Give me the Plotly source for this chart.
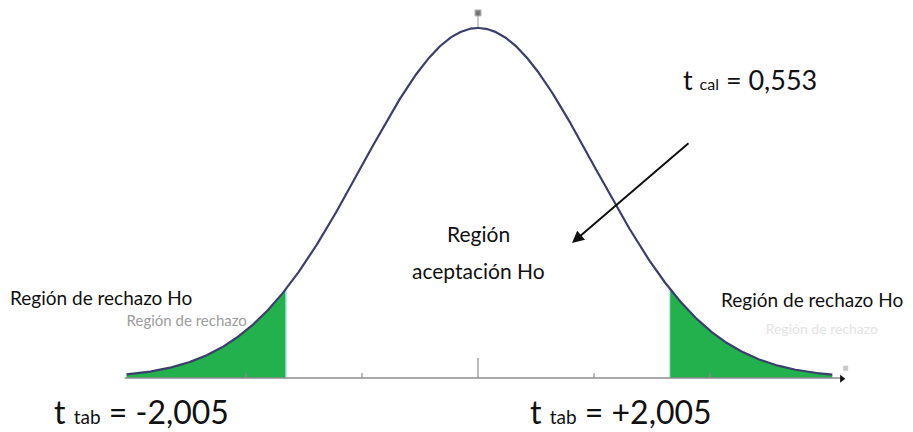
import numpy as np
import plotly.graph_objects as go

# Critical and calculated t values
t_tab = 2.005
t_cal = 0.553

# Bell curve drawn in t units; shape scale and visible span of the curve
curve_scale = 1.215
curve_span = [-3.68, 3.71]
tick_steps = [-2, -1, 0, 1, 2]

# Texts
label_reject = "Región de rechazo Ho"
label_accept = ["Región", "aceptación Ho"]
label_ghost = "Región de rechazo"

GREEN = "#22b14c"
CURVE = "#3b3f6b"
AXIS = "#8c8c8c"
FONT = "Lato, 'Open Sans', sans-serif"


def bell(t):
    return np.exp(-0.5 * (np.asarray(t) / curve_scale) ** 2)


def fmt(v):
    return f"{v:.3f}".replace(".", ",")


def t_label(sub, value, sub_px):
    return f"t <span style='font-size:{sub_px}px'>{sub}</span> = {value}"


t = np.linspace(curve_span[0], curve_span[1], 600)
y = bell(t)

fig = go.Figure()

# faint text sitting behind the tails
fig.add_trace(go.Scatter(
    x=[-3.05], y=[0.16], mode="text", text=[label_ghost],
    textfont=dict(family=FONT, size=15, color="#9d9d9d"),
    hoverinfo="skip", showlegend=False))
fig.add_trace(go.Scatter(
    x=[3.6], y=[0.137], mode="text", text=[label_ghost],
    textfont=dict(family=FONT, size=14, color="#e4e4e4"),
    hoverinfo="skip", showlegend=False))

# shaded rejection tails
for side in (-1, 1):
    if side < 0:
        tt = t[t <= -t_tab]
    else:
        tt = t[t >= t_tab]
    xs = np.concatenate([tt, tt[::-1]])
    ys = np.concatenate([bell(tt), np.zeros_like(tt)])
    fig.add_trace(go.Scatter(
        x=xs, y=ys, mode="lines", fill="toself", fillcolor=GREEN,
        line=dict(width=0), hoverinfo="skip", showlegend=False))
    # light edge at the critical value
    fig.add_trace(go.Scatter(
        x=[side * t_tab, side * t_tab], y=[0, float(bell(t_tab))],
        mode="lines", line=dict(color="#bfe9ee", width=1.5),
        hoverinfo="skip", showlegend=False))

# horizontal axis
fig.add_trace(go.Scatter(
    x=[curve_span[0] - 0.02, curve_span[1] + 0.1], y=[0, 0], mode="lines",
    line=dict(color=AXIS, width=1.5), hoverinfo="skip", showlegend=False))

# tick marks at multiples of the scale, the central one taller
tx, ty = [], []
for k in tick_steps:
    h = 0.057 if k == 0 else 0.014
    tx += [k * curve_scale, k * curve_scale, None]
    ty += [0, h, None]
fig.add_trace(go.Scatter(
    x=tx, y=ty, mode="lines", line=dict(color=AXIS, width=1.2),
    hoverinfo="skip", showlegend=False))

# stub above the peak
fig.add_trace(go.Scatter(
    x=[0, 0], y=[1.0, 1.043], mode="lines+markers",
    line=dict(color="#9a9a9a", width=1),
    marker=dict(size=[0, 6], color="#444444", symbol="square"),
    hoverinfo="skip", showlegend=False))

# density curve
fig.add_trace(go.Scatter(
    x=t, y=y, mode="lines", line=dict(color=CURVE, width=2.2),
    hoverinfo="skip", showlegend=False))

# arrowhead at the right end of the axis
fig.add_trace(go.Scatter(
    x=[curve_span[1] + 0.1], y=[-0.002], mode="markers",
    marker=dict(symbol="triangle-right", size=7, color="#111111"),
    hoverinfo="skip", showlegend=False))
fig.add_trace(go.Scatter(
    x=[curve_span[1] + 0.14], y=[0.028], mode="markers",
    marker=dict(symbol="square", size=5, color="#c8c8c8"),
    hoverinfo="skip", showlegend=False))

ann = [
    dict(x=0.111, y=0.3125, text=label_reject, font=dict(size=19)),
    dict(x=0.889, y=0.306, text=label_reject, font=dict(size=19)),
    dict(x=0.5236, y=1 - 233 / 432, text=label_accept[0], font=dict(size=21)),
    dict(x=0.5236, y=1 - 270 / 432, text=label_accept[1], font=dict(size=21)),
    dict(x=0.822, y=0.815, text=t_label("cal", fmt(t_cal), 16), font=dict(size=27)),
    dict(x=0.1545, y=1 - 411 / 432, text=t_label("tab", "-" + fmt(t_tab), 19),
         font=dict(size=32)),
    dict(x=0.680, y=1 - 411 / 432, text=t_label("tab", "+" + fmt(t_tab), 19),
         font=dict(size=32)),
]
for a in ann:
    a["font"].update(family=FONT, color="#111111")
    fig.add_annotation(xref="paper", yref="paper", showarrow=False,
                       xanchor="center", yanchor="middle", **a)

# pointer into the acceptance region
fig.add_annotation(
    xref="paper", yref="paper", x=572 / 913, y=1 - 243 / 432,
    ax=118, ay=-101, text="", showarrow=True,
    arrowhead=2, arrowsize=1.2, arrowwidth=2, arrowcolor="#111111")

fig.update_xaxes(range=[-5.005, 4.555], visible=False, fixedrange=True)
fig.update_yaxes(range=[-0.1543, 1.08], visible=False, fixedrange=True)
fig.update_layout(
    width=913, height=432, margin=dict(l=0, r=0, t=0, b=0),
    plot_bgcolor="white", paper_bgcolor="white", showlegend=False)

fig.write_html("out.html", config={"displayModeBar": False})
